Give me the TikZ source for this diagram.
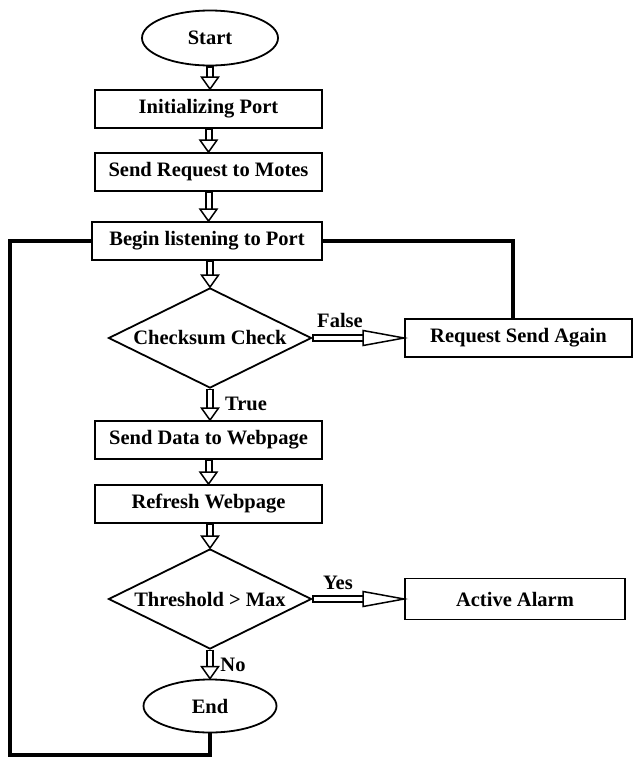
\documentclass[tikz,border=0pt]{standalone}
\usepackage{fontspec}
\setmainfont{Liberation Serif}
\usetikzlibrary{shapes.geometric,decorations.markings}
\begin{document}
\begin{tikzpicture}[x=1pt,y=-1pt,
  txt/.style={font=\bfseries\fontsize{20.5}{24}\selectfont},
  box/.style={draw, line width=1.8pt, minimum width=227pt, minimum height=38pt, inner sep=0pt, txt},
  term/.style={draw, ellipse, line width=1.8pt, minimum width=136pt, minimum height=55pt, inner sep=0pt, txt},
  dec/.style={draw, diamond, aspect=2.03, line width=1.8pt, minimum width=203pt, minimum height=100pt, inner sep=0pt, txt},
  darr/.style={draw, line width=8pt, shorten >=10pt,
    postaction={draw=white, line width=4pt, shorten <=1.2pt, shorten >=9pt},
    postaction={decorate, decoration={markings, mark=at position 1 with {
      \draw[line width=1.5pt, fill=white, line join=miter, shorten >=0pt, shorten <=0pt]
        (-12pt,-8.5pt) -- (0pt,0pt) -- (-12pt,8.5pt) -- cycle;}}}},
  harr/.style={draw, line width=8pt, shorten >=38pt,
    postaction={draw=white, line width=4pt, shorten <=1.2pt, shorten >=37pt},
    postaction={decorate, decoration={markings, mark=at position 1 with {
      \draw[line width=1.5pt, fill=white, line join=miter, shorten >=0pt, shorten <=0pt]
        (-41pt,-7.5pt) -- (0pt,0pt) -- (-41pt,7.5pt) -- cycle;}}}},
  loopl/.style={line width=3.5pt, line join=miter},
  lbl/.style={txt, inner sep=0pt}
]
\useasboundingbox (0,0) rectangle (634,761);
\node[term] (start) at (210,38) {Start};
\node[box] (init) at (208.5,109) {Initializing Port};
\node[box] (send) at (208.5,172) {Send Request to Motes};
\node[box, minimum width=230pt] (begin) at (207,241) {Begin listening to Port};
\node[dec] (chk) at (210,338) {Checksum Check};
\node[box] (req) at (518.5,338) {Request Send Again};
\node[box] (data) at (208.5,440) {Send Data to Webpage};
\node[box] (refr) at (208.5,504) {Refresh Webpage};
\node[dec] (thr) at (210,599) {Threshold > Max};
\node[box, minimum width=220pt, minimum height=41pt] (alarm) at (515,599) {Active Alarm};
\node[term, minimum width=133pt, minimum height=53pt] (end) at (210,706) {End};

\draw[darr] (start) -- (start.south |- init.north);
\draw[darr] (init) -- (send);
\draw[darr] (send) -- (begin.north -| send.south);
\draw[darr] (begin.south -| chk.north) -- (chk.north);
\draw[harr] (chk.east) -- (req.west);
\draw[darr] (chk.south) -- (chk.south |- data.north);
\draw[darr] (data) -- (refr);
\draw[darr] (refr.south -| thr.north) -- (thr.north);
\draw[harr] (thr.east) -- (alarm.west);
\draw[darr] (thr.south) -- (end.north);

\node[lbl] (lf) at (340,320) {False};
\node[lbl] (lt) at (246,404) {True};
\node[lbl] (ly) at (338,583) {Yes};
\node[lbl] (ln) at (233,665) {No};

\coordinate (c1) at (210,755);
\coordinate (c2) at (10,755);
\coordinate (c3) at (10,241);
\draw[loopl] (end.south) -- (c1) -- (c2) -- (c3) -- (begin.west);
\coordinate (c4) at (513,241);
\draw[loopl] (req.north -| c4) -- (c4) -- (begin.east);
\end{tikzpicture}
\end{document}
